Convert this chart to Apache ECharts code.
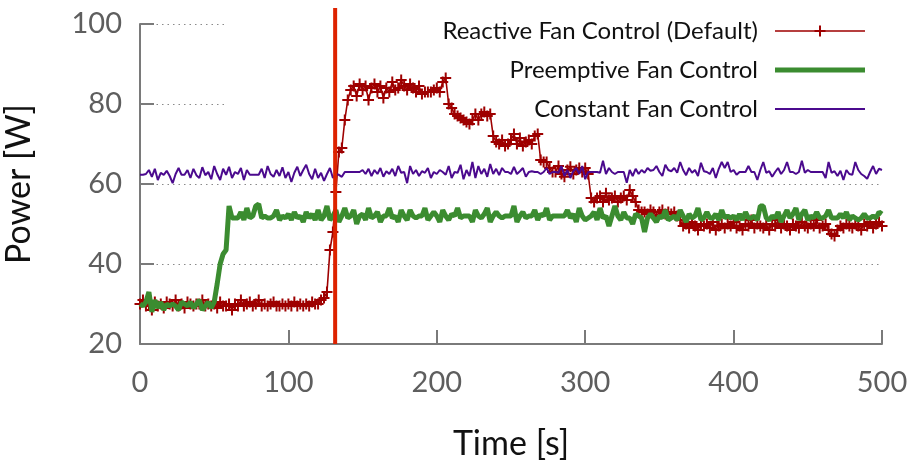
<!DOCTYPE html>
<html>
<head>
<meta charset="utf-8">
<script src="https://cdn.jsdelivr.net/npm/echarts@6/dist/echarts.min.js"></script>
<style>
html,body{margin:0;padding:0;background:#fff;}
#chart{width:916px;height:465px;}
</style>
</head>
<body>
<div id="chart"></div>
<script>
// sampling step in seconds
const timeStep = 2;
const seriesNames = ['Reactive Fan Control (Default)', 'Preemptive Fan Control', 'Constant Fan Control'];
const xTicks = [0, 100, 200, 300, 400, 500];
const yTicks = [20, 40, 60, 80, 100];
const markerTime = 131.5;

const reactive = [
30,31,29.5,30,28.5,30.5,29.5,30,29,30.5,
30,29.5,31,29.5,30,29,30.5,30,29.5,30,
30,31,29.5,30,29.5,30,29,30.5,29.5,29.5,
30,28.5,30,29.5,31,29.5,30,30.5,29.5,30,
31,29.5,30,29.5,30,30.5,29.5,29.5,30,29.5,
30,29.5,30.5,29.5,30,29.5,30,29.5,30.5,30,
30,31,31.5,33,43.5,48,58,68,69,76,
81,83.5,84.5,82,85,83.5,84.5,81,84,85,
83,84.5,81.5,84,83,85.5,83.5,84,86,84.5,
83.5,85,84,83,84.5,82.5,83,83,83,83.5,
84,83,85.5,86.5,80,79,77.5,77,76.5,76,
75.5,75,76,77.5,76,77.5,78,77,77.5,72,
70.5,70,71,69.5,70,71,72.5,70,71.5,69.5,
70.5,71,70,72,72.5,66,65.5,65.5,64,63,
63,64.5,62.5,61.8,63.5,64.3,62.5,63.5,64,63,
64,62.5,56.5,55.5,56.5,57,55.5,57.7,56,56.5,
57,55.5,56.5,57,56,58.5,57,55.5,53.5,53,
53,52.5,53.5,53,52,53,53.5,52.5,53,52.5,
53,52,51,49.5,50,49,50.5,49.5,48.5,50,
49.5,50,49,50.5,48.5,49.5,50,49,50,49.5,
50.5,49,49.5,48.5,50,49.5,51,49,50,49.5,
49,50,48.5,50,49.5,51,49,50,49.5,48.5,
50,49.5,49,50.5,49.5,49,50,49.5,51,49,
49.5,50,48.5,47.5,47,48.5,49.5,49,50,49.5,
49,50,49.5,48.5,50,49.5,50.5,49,50,50.5,
49.5
];

const preemptive = [
30,29.5,30.5,33,28,31,29,30.5,28.5,30,
29.5,30,29.5,28.5,30.5,30,29.5,30.5,29,30,
31,28.5,29.5,30.5,29,30.5,35,40,42.5,43.5,
54.5,51.5,51.5,51.5,53,51,54,51.5,52,54.5,
55,51.5,52,51.5,51.5,52,53.5,51,52,51.5,
52.5,51,53,51.5,52,50.5,53,51.5,52.5,51,
53.5,51,52,54.5,51,52,53.5,50.5,52,54,
51.5,52,53.5,50,52,52.5,51,54,51.5,52,
53,50.5,52,52,54,51.5,52,50.5,53.5,52,
51,53.5,52,51.5,52,52,54,51,52,53,
52,50.5,53.5,52,51,52.5,52,54,51.5,52,
52,52,50.5,53.5,52,51.5,52.5,54,50.5,52,
53,52,51.5,52,52,52,54.5,50.5,52,53,
51.5,52,52,53.5,51,52.5,52,54,51,52,
52,52,52,52,53.5,51.5,52.5,50.5,54,52,
51,51.5,52,53,51,54,51.5,52,49.5,52,
54.5,52,51,53,51.5,51.5,50,52.5,52,51.5,
48,51.5,52.5,51.5,50.5,52,51.5,53.5,51,51.5,
52,51,53.5,52,50.5,52.5,51.5,52,54,51,
51.5,53,51.5,51.5,52.5,51,53.5,51.5,52,51.5,
52,51,52.5,51,53,51.5,51.5,52,51,54.5,
54.5,51.5,51,52,51.5,53,50.5,52,53.5,51.5,
52.5,54,51,52.5,53.5,51,52,51.5,53,51.5,
51.5,52,53.5,51.5,51.5,51.5,52.5,51.5,53,51,
52,51.5,51,51.5,52.5,51.5,51.5,52,51.5,53,
52.5
];

const constant = [
62.3,62.3,62.5,63.5,61.8,63.8,61,62.8,62.3,63.3,
62,60.2,62.5,64,62.3,62.3,63.5,61.5,63.8,62.2,
61.5,64.2,62.2,63,61.2,64.5,62.5,61,63.8,62.3,
64.3,61.5,63,62.5,64,61,63.5,62.3,62.3,62.3,
62.3,63.8,61.5,64.5,62.5,61.8,63.5,62,64.2,61.5,
63,60.5,62.8,64.3,62,63.5,64.8,62.5,61.2,63.8,
61.5,62.8,60.8,62.5,64,61.5,62.5,62.3,61.8,63,
63,63,63,63,63,63.5,62.5,63.8,62,63.5,
62.5,64,61.8,63.2,62.5,63.8,62,64.5,62.8,63,
60.2,64.5,62.5,63.5,62,63.2,62.8,64,61.5,63,
62.5,63.5,63,62.3,64.5,61.5,63,62.8,64.8,61.2,
63.5,62,65.5,61.5,64.5,62.5,63.8,61.8,65,62.5,
63.8,62.2,64,63,63,62.5,64.3,62.5,63.2,64,
61.8,63,63.2,63,63,62.5,63,64,62.5,63,
63,62.8,64.5,62,63.5,61.5,63.2,64,62.5,64.5,
61.2,63,63,63,63,62.8,65.8,62.5,64,63,
62.5,63,63,63,60.3,63.5,62,63.8,62.5,63.5,
62.8,64,63.3,63.5,64.5,63,62,64.8,63.5,63.2,
64,62.8,65.5,63.5,62.2,64,62.8,63.5,62,65.3,
63.2,63,62.5,64,61.5,63.8,65.5,64,65.5,63,
63.5,62.3,63,63,63,64.5,63,63,61,63.5,
65.5,62.8,63.2,61.8,63,64,62.5,63.5,65.5,63,
63,62.5,63,65.8,62.8,63.5,63,63,63,63,
63,61.5,65.5,62.8,63.2,62,63.3,61,63.5,62.5,
62.3,65.5,63.5,62.5,62,61.3,63,64.5,62.5,63.8,
63.5
];

function pairs(vals) {
  return vals.map((v, i) => [i * timeStep, v]);
}

const FONT = 'Lato';
const AXIS_GREY = '#7a7a7a';
const LABEL_GREY = '#5e5e5e';

const chart = echarts.init(document.getElementById('chart'), null, {renderer: 'canvas'});

const plusPath = 'path://M4.5,0H6.5V4.5H11V6.5H6.5V11H4.5V6.5H0V4.5H4.5Z';
const iconReactive = 'path://M0,4.7H90V6.3H0Z M44,0H46V11H44Z M39.5,4.5H50.5V6.5H39.5Z';
const iconPreemptive = 'path://M0,0H90V5H0Z';
const iconConstant = 'path://M0,0H90V2H0Z';

chart.setOption({
  animation: false,
  backgroundColor: '#ffffff',
  textStyle: {fontFamily: FONT},
  grid: {left: 140, right: 34, top: 24, bottom: 121, containLabel: false, outerBoundsMode: 'none'},
  graphic: [{
    type: 'rect',
    z: 1,
    silent: true,
    shape: {x: 228, y: 6, width: 658, height: 120},
    style: {fill: '#ffffff'}
  }],
  legend: {
    data: [
      {name: seriesNames[0], icon: iconReactive},
      {name: seriesNames[1], icon: iconPreemptive},
      {name: seriesNames[2], icon: iconConstant}
    ],
    orient: 'vertical',
    right: 51,
    top: 19,
    align: 'right',
    padding: 0,
    itemGap: 15,
    itemWidth: 90,
    itemHeight: 11,
    symbolKeepAspect: true,
    textStyle: {fontFamily: FONT, fontSize: 24, color: '#111', lineHeight: 22, padding: [0, 12, 0, 0]}
  },
  xAxis: {
    type: 'value',
    min: xTicks[0],
    max: xTicks[xTicks.length - 1],
    interval: 100,
    name: 'Time [s]',
    nameLocation: 'middle',
    nameGap: 83,
    nameTextStyle: {fontFamily: FONT, fontSize: 34, color: '#111'},
    axisLine: {show: true, onZero: false, lineStyle: {color: AXIS_GREY, width: 2}},
    axisTick: {show: true, inside: true, length: 14, lineStyle: {color: AXIS_GREY, width: 2}},
    axisLabel: {margin: 24, fontFamily: FONT, fontSize: 29, color: LABEL_GREY},
    splitLine: {show: false}
  },
  yAxis: {
    type: 'value',
    min: yTicks[0],
    max: yTicks[yTicks.length - 1],
    interval: 20,
    name: 'Power [W]',
    nameLocation: 'middle',
    nameGap: 104,
    nameTextStyle: {fontFamily: FONT, fontSize: 34, color: '#111'},
    axisLine: {show: true, lineStyle: {color: AXIS_GREY, width: 2}},
    axisTick: {show: true, inside: true, length: 14, lineStyle: {color: AXIS_GREY, width: 2}},
    axisLabel: {margin: 18, fontFamily: FONT, fontSize: 29, color: LABEL_GREY},
    splitLine: {show: true, lineStyle: {color: '#8a8a8a', width: 1, type: [1.5, 4]}}
  },
  series: [
    {
      name: seriesNames[0],
      type: 'line',
      z: 2,
      data: pairs(reactive),
      symbol: plusPath,
      symbolSize: 11,
      showAllSymbol: true,
      itemStyle: {color: '#9e0000'},
      lineStyle: {color: '#9e0000', width: 1.6}
    },
    {
      name: seriesNames[1],
      type: 'line',
      z: 3,
      data: pairs(preemptive),
      symbol: 'none',
      itemStyle: {color: '#3b8c30'},
      lineStyle: {color: '#3b8c30', width: 5}
    },
    {
      name: seriesNames[2],
      type: 'line',
      z: 4,
      data: pairs(constant),
      symbol: 'none',
      itemStyle: {color: '#4b0a8e'},
      lineStyle: {color: '#4b0a8e', width: 2}
    },
    {
      name: 'marker',
      type: 'line',
      z: 5,
      clip: false,
      data: [[markerTime, 20], [markerTime, 104]],
      symbol: 'none',
      lineStyle: {color: '#dd2200', width: 4}
    }
  ]
});
</script>
</body>
</html>
